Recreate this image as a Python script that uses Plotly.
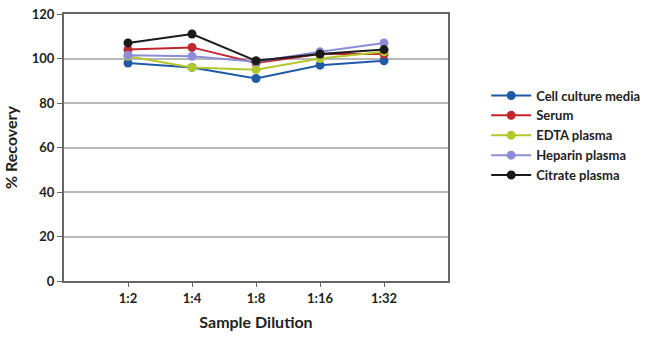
import plotly.graph_objects as go

dilutions = ["1:2", "1:4", "1:8", "1:16", "1:32"]
cell_culture = [98, 96, 91, 97, 99]
serum = [104, 105, 98, 102, 102]
edta = [101, 96, 95, 100, 103]
heparin = [101.5, 101, 98.5, 103, 107]
citrate = [107, 111, 99, 102, 104]

series = [
    ("Cell culture media", cell_culture, "#1f5aa6"),
    ("Serum", serum, "#c1272d"),
    ("EDTA plasma", edta, "#b3c72e"),
    ("Heparin plasma", heparin, "#8c8cd8"),
    ("Citrate plasma", citrate, "#1a1a1a"),
]

FONT = "Lato, Liberation Sans, sans-serif"

fig = go.Figure()
xs = list(range(1, len(dilutions) + 1))
for name, vals, col in series:
    fig.add_trace(go.Scatter(
        x=xs, y=vals, name=name, mode="lines+markers",
        line=dict(color=col, width=2),
        marker=dict(color=col, size=9),
    ))

fig.update_layout(
    width=650, height=350,
    margin=dict(l=64, r=202, t=14, b=69, autoexpand=False),
    paper_bgcolor="white", plot_bgcolor="white",
    font=dict(family=FONT, size=13, color="#222"),
    showlegend=True,
    legend=dict(xref="container", yref="container", x=0.748, y=0.77,
                xanchor="left", yanchor="top",
                font=dict(family=FONT, size=13, color="#222", weight="bold"),
                tracegroupgap=0, itemwidth=40),
    xaxis=dict(
        range=[0, 6], tickmode="array", tickvals=xs, ticktext=dilutions,
        showgrid=False, zeroline=False,
        showline=True, linecolor="#666", linewidth=2, mirror=True,
        ticks="outside", ticklen=4, tickcolor="#666",
        tickfont=dict(family=FONT, size=13, color="#222", weight="bold"),
        title=dict(text="Sample Dilution", standoff=12,
                   font=dict(family=FONT, size=16, color="#222", weight="bold")),
    ),
    yaxis=dict(
        range=[0, 120], tickvals=[0, 20, 40, 60, 80, 100, 120],
        showgrid=True, gridcolor="#b8b8b8", gridwidth=1.5, zeroline=False,
        showline=True, linecolor="#666", linewidth=2, mirror=True,
        ticks="outside", ticklen=5, tickcolor="#666",
        tickfont=dict(family=FONT, size=13, color="#222", weight="bold"),
        title=dict(text="% Recovery", standoff=10,
                   font=dict(family=FONT, size=16, color="#222", weight="bold")),
    ),
)

fig.write_html("out.html")
